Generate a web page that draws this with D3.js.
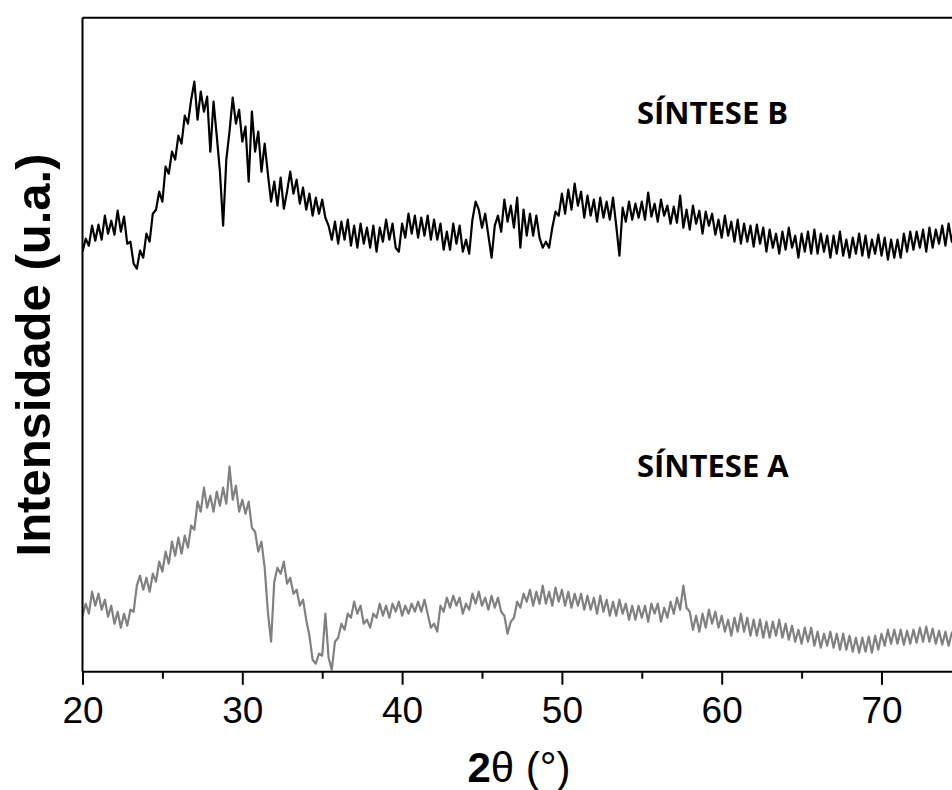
<!DOCTYPE html>
<html>
<head>
<meta charset="utf-8">
<script src="https://cdn.jsdelivr.net/npm/d3@7"></script>
<style>
  html, body { margin: 0; padding: 0; background: #fff; }
  svg { display: block; }
</style>
</head>
<body>
<svg id="chart" width="952" height="790"></svg>
<script>
// ---- data ----
const thetaStart = 20.0;   // 2θ of first sample (°)
const thetaStep = 0.2;     // 2θ step (°)
const majorTicks = [20, 30, 40, 50, 60, 70];
const minorTicks = [25, 35, 45, 55, 65];
const seriesNames = ["SÍNTESE B", "SÍNTESE A"];

// SÍNTESE B (offset pattern, arbitrary units)
const sinteseB = [
  420,433,426,446,431, 447,432,456,438,451, 437,461,440,455,428, 430,408,403,421,414,
  438,430,458,462,480, 470,505,498,520,512, 536,528,556,548,572, 590,552,580,560,575,
  520,570,536,500,446, 512,540,574,548,562, 530,545,490,560,520, 540,500,528,498,470,
  490,466,494,463,480, 500,478,492,468,484, 462,478,456,474,458, 472,454,446,432,450,
  428,450,432,452,426, 446,424,448,428,444, 424,446,420,444,430, 452,432,448,424,420,
  448,434,458,438,456, 434,454,436,456,432, 452,432,448,422,440, 422,448,428,446,420,
  432,418,452,470,462, 444,458,436,414,446, 456,440,472,450,466, 444,474,424,462,436,
  458,436,456,434,424, 430,424,444,460,456, 478,458,482,462,488, 466,480,454,476,456,
  472,450,474,454,470, 452,474,446,416,464, 450,470,452,468,454, 470,452,479,455,468,
  450,472,456,466,448, 465,449,476,444,462, 442,466,448,461,438, 460,446,458,437,452,
  434,456,436,450,430, 452,428,448,430,446, 425,447,428,444,420, 442,424,438,418,440,
  422,444,424,436,414, 438,420,440,418,442, 418,438,420,436,414, 436,418,440,416,432,
  414,434,418,438,416, 436,414,432,418,437, 416,434,412,432,414, 432,414,438,420,440,
  422,440,424,442,420, 444,424,442,428,446, 426,448,430,446,432
];

// SÍNTESE A
const sinteseA = [
  56,68,58,80,66, 78,62,72,55,66, 48,60,44,58,46, 62,60,86,96,82,
  94,80,98,90,110, 100,120,108,130,116, 134,118,136,124,146, 142,170,160,184,164,
  176,160,180,166,184, 168,205,172,186,160, 172,158,170,144,140, 120,130,104,60,30,
  90,104,98,110,88, 94,78,82,66,72, 52,36,12,8,18, 16,58,14,2,30,
  34,48,42,58,54, 70,58,66,48,52, 44,58,54,68,56, 66,54,68,60,70,
  56,66,58,68,60, 70,60,72,58,44, 48,40,66,60,74, 64,76,66,74,58,
  68,62,78,68,80, 66,74,62,76,64, 74,60,56,38,50, 54,70,64,78,70,
  82,66,80,68,86, 68,80,66,84,70, 82,66,80,64,78, 66,78,62,76,62,
  74,58,76,60,72, 56,70,56,72,58, 68,52,66,52,66, 54,66,50,68,58,
  68,50,64,54,70, 58,74,62,86,64, 60,42,56,40,58, 44,62,48,60,44,
  56,40,52,36,54, 40,58,40,54,36, 52,36,52,34,50, 34,50,36,52,34,
  48,32,46,30,42, 28,44,30,44,26, 40,24,38,26,40, 24,38,22,38,22,
  36,20,34,19,34, 20,35,19,36,22, 38,26,42,28,42, 28,42,27,41,28,
  42,29,44,30,45, 30,43,28,41,27, 40,26,39,27,38
];

// ---- layout ----
const W = 952, H = 790;
const plotLeft = 82.5, plotTop = 17.7, plotBottom = 671.7;
const pxPerDeg = 15.98;

const svg = d3.select("#chart");

const x = d3.scaleLinear().domain([20, 80]).range([plotLeft, plotLeft + 60 * pxPerDeg]);
const y = d3.scaleLinear().domain([0, 654]).range([plotBottom, plotTop]);

svg.append("defs").append("clipPath").attr("id", "plotclip")
  .append("rect").attr("x", plotLeft).attr("y", plotTop - 2)
  .attr("width", W - plotLeft).attr("height", plotBottom - plotTop + 2);

const line = d3.line()
  .x((d, i) => x(thetaStart + i * thetaStep))
  .y(d => y(d));

const plot = svg.append("g").attr("clip-path", "url(#plotclip)");
plot.append("path").datum(sinteseA)
  .attr("d", line).attr("fill", "none")
  .attr("stroke", "#808080").attr("stroke-width", 2.2).attr("stroke-linejoin", "round");
plot.append("path").datum(sinteseB)
  .attr("d", line).attr("fill", "none")
  .attr("stroke", "#000").attr("stroke-width", 2.2).attr("stroke-linejoin", "round");

// frame: top and left
svg.append("line").attr("x1", plotLeft).attr("x2", W + 5).attr("y1", plotTop).attr("y2", plotTop)
  .attr("stroke", "#000").attr("stroke-width", 2);
svg.append("line").attr("x1", plotLeft).attr("x2", plotLeft).attr("y1", plotTop).attr("y2", plotBottom)
  .attr("stroke", "#000").attr("stroke-width", 2);

// x axis
const gx = svg.append("g").attr("transform", `translate(0,${plotBottom})`);
gx.call(d3.axisBottom(x).tickValues(majorTicks).tickSize(13).tickPadding(12)
  .tickFormat(d3.format("d")));
gx.select(".domain").attr("d", `M${plotLeft},0H${W + 5}`);
const gxm = svg.append("g").attr("transform", `translate(0,${plotBottom})`);
gxm.call(d3.axisBottom(x).tickValues(minorTicks).tickSize(7).tickFormat(""));
gxm.select(".domain").remove();
svg.selectAll(".tick line").attr("stroke", "#000").attr("stroke-width", 2);
gx.select(".domain").attr("stroke", "#000").attr("stroke-width", 2);
gx.selectAll(".tick text")
  .attr("font-family", "'Liberation Sans', Arial, sans-serif")
  .attr("font-size", 37).attr("fill", "#000");

// axis titles
const xt = svg.append("text")
  .attr("x", 519).attr("y", 782)
  .attr("text-anchor", "middle")
  .attr("font-family", "'Liberation Sans', Arial, sans-serif")
  .attr("font-size", 42).attr("fill", "#000");
xt.append("tspan").attr("font-weight", "bold").text("2");
xt.append("tspan").text("θ (°)");

svg.append("text")
  .attr("transform", "translate(50,355) rotate(-90)")
  .attr("text-anchor", "middle")
  .attr("font-family", "'Liberation Sans', Arial, sans-serif")
  .attr("font-weight", "bold")
  .attr("font-size", 49).attr("fill", "#000")
  .text("Intensidade (u.a.)");

// series labels
const labelPos = [124, 477];
seriesNames.forEach((name, i) => {
  svg.append("text")
    .attr("x", 637).attr("y", labelPos[i])
    .attr("font-family", "'Open Sans', 'Noto Sans', sans-serif")
    .attr("font-weight", "bold")
    .attr("font-size", 31).attr("fill", "#000")
    .text(name);
});
</script>
</body>
</html>
